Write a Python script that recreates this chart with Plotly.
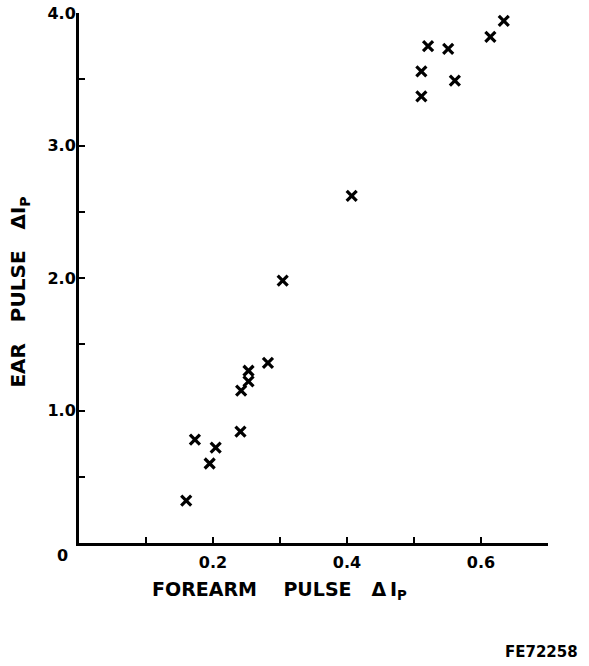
import plotly.graph_objects as go

# Pulse amplitude measurements (ΔIp): forearm vs. ear
forearm_dip = [0.160, 0.173, 0.195, 0.204, 0.241, 0.242, 0.253, 0.253, 0.282,
               0.304, 0.407, 0.511, 0.511, 0.521, 0.551, 0.561, 0.614, 0.634]
ear_dip = [0.32, 0.78, 0.60, 0.72, 0.84, 1.15, 1.22, 1.30, 1.36,
           1.98, 2.62, 3.37, 3.56, 3.75, 3.73, 3.49, 3.82, 3.94]

x_tickvals = [0.1, 0.2, 0.3, 0.4, 0.5, 0.6]
x_ticktext = ["", "0.2", "", "0.4", "", "0.6"]
y_tickvals = [0.5, 1.0, 1.5, 2.0, 2.5, 3.0, 3.5, 4.0]
y_ticktext = ["", "1.0", "", "2.0", "", "3.0", "", "4.0"]

FONT = "DejaVu Sans"
NB = "\u00a0"

fig = go.Figure()
fig.add_trace(go.Scatter(
    x=forearm_dip, y=ear_dip, mode="markers",
    marker=dict(symbol="x-thin", size=10, color="black",
                line=dict(color="black", width=3.2)),
    cliponaxis=False, showlegend=False,
))

tickfont = dict(family=FONT, size=16, weight="bold", color="black")

fig.update_layout(
    width=589, height=666,
    margin=dict(l=79, r=41, t=13, b=123),
    paper_bgcolor="white", plot_bgcolor="white",
    font=dict(family=FONT, color="black", size=15, weight="bold"),
    xaxis=dict(range=[0, 0.7], showline=True, linewidth=3, linecolor="black",
               ticks="inside", ticklen=6, tickwidth=2, tickcolor="black",
               tickvals=x_tickvals, ticktext=x_ticktext,
               ticklabelstandoff=3, automargin=False,
               showgrid=False, zeroline=False, tickfont=tickfont),
    yaxis=dict(range=[0, 4.0], showline=True, linewidth=3, linecolor="black",
               ticks="inside", ticklen=6, tickwidth=2, tickcolor="black",
               tickvals=y_tickvals, ticktext=y_ticktext,
               ticklabelstandoff=-3, automargin=False,
               showgrid=False, zeroline=False, tickfont=tickfont),
)

# origin label
fig.add_annotation(x=0, y=0, xref="x", yref="y", text="0", showarrow=False,
                   xshift=-17, yshift=-12, font=tickfont)

# axis titles
fig.add_annotation(
    x=0.299, y=0, xref="x", yref="y", yshift=-47, showarrow=False,
    text=f"FOREARM{NB*4}PULSE{NB*3}Δ\u2009I<sub>P</sub>",
    font=dict(family=FONT, size=19, weight="bold", color="black"))
fig.add_annotation(
    x=0, y=1.89, xref="x", yref="y", xshift=-60, showarrow=False, textangle=-90,
    text=f"EAR{NB*3}PULSE{NB*3}ΔI<sub>P</sub>",
    font=dict(family=FONT, size=20, weight="bold", color="black"))

# figure code, bottom right corner of the page
fig.add_annotation(x=(580 - 79) / 469, y=(543 - 652) / 530,
                   xref="paper", yref="paper",
                   xanchor="right", yanchor="middle", showarrow=False,
                   text="FE72258",
                   font=dict(family=FONT, size=15, weight="bold", color="black"))

fig.write_html("out.html")
